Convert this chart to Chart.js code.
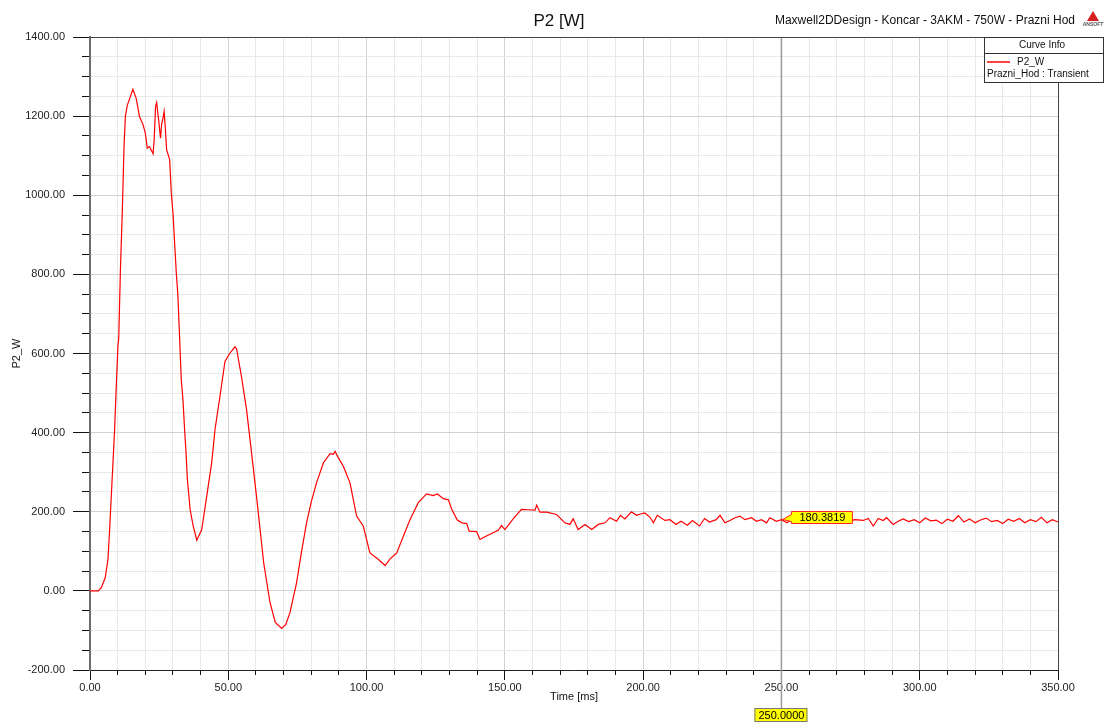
<!DOCTYPE html>
<html>
<head>
<meta charset="utf-8">
<script src="https://cdn.jsdelivr.net/npm/chart.js@4.4.1/dist/chart.umd.min.js"></script>
<style>
  html, body { margin: 0; padding: 0; background: #fff; }
  #wrap { width: 1110px; height: 722px; }
</style>
</head>
<body>
<div id="wrap"><canvas id="p2Chart" width="1110" height="722"></canvas></div>
<script>
/* ── DATA ── */
const timeMs = [
  0, 2, 3, 4.1, 5.5, 6.5, 7.1, 7.7, 8.3, 8.9, 9.5, 10.1, 10.4, 11.0, 11.7, 12.3, 12.8, 13.5, 14.3, 15.5,
  16.7, 17.9, 19.2, 20.0, 20.7, 21.5, 22.3, 22.8, 23.2, 23.7, 24.1, 24.8, 25.5, 25.9, 26.4, 26.8, 27.2, 27.7, 28.8, 29.4,
  30.0, 30.6, 31.2, 31.8, 32.4, 33.0, 33.6, 34.2, 34.8, 35.2, 36.2, 37.3, 38.6, 40.4, 42.2, 44.0, 45.2, 47.0, 48.8, 50.5,
  52.4, 53.0, 54.8, 56.6, 58.4, 60.2, 62.8, 65.1, 67.0, 69.3, 70.8, 72.3, 74.7, 76.5, 78.3, 80.0, 81.9, 84.4, 86.8, 88.0,
  88.6, 89.5, 91.6, 94.0, 96.4, 98.8, 101.2, 104.2, 106.7, 108.5, 110.9, 113.3, 115.7, 118.7, 121.7, 124.1, 125.6, 127.8, 129.6, 130.8,
  132.8, 134.5, 136.2, 137.1, 139.8, 141.0, 142.8, 144.6, 147.6, 148.8, 150.0, 153.0, 156.0, 158.5, 160.9, 161.5, 162.7, 165.1, 168.7, 171.7,
  173.5, 174.7, 176.5, 179.0, 181.4, 183.8, 186.2, 188.0, 190.4, 191.8, 193.4, 195.8, 197.6, 199.4, 200.6, 202.5, 203.7, 205.1, 207.9, 209.7,
  211.9, 213.7, 216.0, 217.8, 220.4, 222.2, 224.0, 226.4, 227.8, 229.6, 231.4, 233.2, 235.0, 236.8, 239.2, 241.0, 242.8, 244.6, 245.8, 248.2,
  250.0, 252, 254, 256, 258, 260, 262, 264, 266, 268, 270, 272, 274, 276.6, 279.6, 281.4, 283.2, 285.0, 286.8, 288.0,
  290.4, 292.2, 294, 296, 298, 300, 302, 304, 306, 308, 310, 312, 314, 316, 318, 320, 322, 324, 326, 328,
  330, 332, 334, 336, 338, 340, 342, 344, 346, 348, 350
];
const powerW = [
  0, 0, 0, 8, 33, 80, 155, 239, 324, 408, 517, 618, 640, 812, 963, 1123, 1200, 1228, 1243, 1268,
  1245, 1199, 1178, 1157, 1119, 1123, 1112, 1105, 1140, 1224, 1234, 1191, 1144, 1180, 1195, 1212, 1174, 1115, 1090, 1006,
  955, 879, 804, 744, 640, 534, 484, 408, 340, 282, 206, 164, 128, 155, 239, 324, 408, 492, 580, 600,
  617, 612, 540, 458, 350, 239, 71, -30, -80, -95, -85, -55, 21, 100, 172, 225, 273, 324, 347, 345,
  353, 340, 315, 273, 189, 164, 96, 80, 64, 81, 96, 138, 180, 223, 245, 241, 245, 233, 230, 206,
  179, 172, 170, 151, 150, 130, 137, 143, 153, 165, 155, 182, 206, 205, 204, 217, 199, 199, 193, 172,
  168, 182, 155, 168, 155, 168, 172, 185, 176, 191, 182, 200, 191, 195, 197, 186, 172, 191, 178, 180,
  168, 176, 166, 178, 164, 183, 174, 180, 191, 172, 178, 185, 189, 180, 185, 176, 180, 172, 185, 176,
  180, 172, 183, 176, 180, 174, 182, 177, 181, 173, 179, 183, 176, 180, 178, 183, 164, 183, 178, 185,
  168, 176, 182, 175, 180, 172, 184, 177, 179, 170, 181, 176, 190, 174, 182, 172, 179, 184, 175, 178,
  170, 181, 176, 183, 172, 180, 175, 186, 172, 180, 174
];
const xTickValues = [0, 50, 100, 150, 200, 250, 300, 350];
const yTickValues = [-200, 0, 200, 400, 600, 800, 1000, 1200, 1400];

const chartTitle = "P2 [W]";
const designTitle = "Maxwell2DDesign - Koncar - 3AKM - 750W - Prazni Hod";
const seriesName = "P2_W";
const setupName = "Prazni_Hod : Transient";
const markerTime = 250;
const markerValue = 180.3819;

/* ── STYLE ── */
const FONT = "'Liberation Sans', Arial, sans-serif";
Chart.defaults.font.family = FONT;
Chart.defaults.font.size = 11;
Chart.defaults.color = "#222";

// Extra drawing: frame, marker, legend box, titles
const decorPlugin = {
  id: "decor",
  beforeDatasetsDraw(chart) {
    const { ctx, chartArea } = chart;
    const mx = chart.scales.x.getPixelForValue(markerTime);
    ctx.save();
    ctx.strokeStyle = "#9a9a9a";
    ctx.lineWidth = 1.5;
    ctx.beginPath();
    ctx.moveTo(mx, chartArea.top);
    ctx.lineTo(mx, 708);
    ctx.stroke();
    ctx.restore();
  },
  afterDraw(chart) {
    const { ctx, chartArea } = chart;
    const xs = chart.scales.x, ys = chart.scales.y;
    ctx.save();

    // top + right frame
    ctx.strokeStyle = "#444";
    ctx.lineWidth = 1;
    ctx.beginPath();
    ctx.moveTo(chartArea.left, chartArea.top + 0.5);
    ctx.lineTo(chartArea.right + 0.5, chartArea.top + 0.5);
    ctx.lineTo(chartArea.right + 0.5, chartArea.bottom);
    ctx.stroke();

    // titles
    ctx.fillStyle = "#111";
    ctx.textBaseline = "middle";
    ctx.font = "17px " + FONT;
    ctx.textAlign = "center";
    ctx.fillText(chartTitle, 559, 21);
    ctx.font = "12px " + FONT;
    ctx.textAlign = "right";
    ctx.fillText(designTitle, 1075, 21);

    // logo
    ctx.fillStyle = "#d42020";
    ctx.beginPath();
    ctx.moveTo(1093, 11);
    ctx.lineTo(1087, 21);
    ctx.lineTo(1099, 21);
    ctx.closePath();
    ctx.fill();
    ctx.fillStyle = "#555";
    ctx.font = "bold 5px " + FONT;
    ctx.textAlign = "center";
    ctx.fillText("ANSOFT", 1093, 25);

    // curve info box
    ctx.fillStyle = "#fff";
    ctx.fillRect(984, 37, 120, 45);
    ctx.strokeStyle = "#333";
    ctx.strokeRect(984.5, 37.5, 119, 45);
    ctx.beginPath();
    ctx.moveTo(984, 53.5);
    ctx.lineTo(1104, 53.5);
    ctx.stroke();
    ctx.fillStyle = "#111";
    ctx.font = "10px " + FONT;
    ctx.textAlign = "center";
    ctx.fillText("Curve Info", 1042, 45);
    ctx.textAlign = "left";
    ctx.fillText(chart.data.datasets[0].label, 1017, 62);
    ctx.fillText(setupName, 987, 74);
    ctx.strokeStyle = "#ff0000";
    ctx.lineWidth = 1.5;
    ctx.beginPath();
    ctx.moveTo(987, 62);
    ctx.lineTo(1010, 62);
    ctx.stroke();

    // value marker label
    const mx = xs.getPixelForValue(markerTime);
    const my = ys.getPixelForValue(markerValue);
    ctx.fillStyle = "#ffff00";
    ctx.strokeStyle = "#ff2020";
    ctx.lineWidth = 1;
    ctx.beginPath();
    ctx.moveTo(mx + 1, my);
    ctx.lineTo(mx + 10, my - 5);
    ctx.lineTo(mx + 10, my - 8);
    ctx.lineTo(mx + 71, my - 8);
    ctx.lineTo(mx + 71, my + 4);
    ctx.lineTo(mx + 10, my + 4);
    ctx.lineTo(mx + 10, my + 2);
    ctx.closePath();
    ctx.fill();
    ctx.stroke();
    ctx.fillStyle = "#000";
    ctx.font = "11px " + FONT;
    ctx.textAlign = "center";
    ctx.fillText(markerValue.toFixed(4), mx + 41, my - 2);

    // x marker label
    ctx.fillStyle = "#ffff00";
    ctx.fillRect(mx - 27, 708, 53, 14);
    ctx.strokeStyle = "#777";
    ctx.strokeRect(mx - 26.5, 708.5, 52, 13);
    ctx.fillStyle = "#000";
    ctx.fillText(markerTime.toFixed(4), mx, 715.5);

    ctx.restore();
  },
};

const points = timeMs.map((t, i) => ({ x: t, y: powerW[i] }));

new Chart(document.getElementById("p2Chart").getContext("2d"), {
  type: "line",
  data: {
    datasets: [
      {
        label: seriesName,
        data: points,
        xAxisID: "x",
        yAxisID: "y",
        borderColor: "#ff0000",
        borderWidth: 1.2,
        pointRadius: 0,
        tension: 0,
        fill: false,
      },
    ],
  },
  options: {
    responsive: false,
    animation: false,
    layout: { padding: { top: 37, right: 52, left: 0, bottom: 0 } },
    plugins: {
      legend: { display: false },
      tooltip: { enabled: false },
    },
    scales: {
      x: {
        type: "linear",
        position: "bottom",
        weight: 1,
        min: 0,
        max: 350,
        afterFit: (s) => { s.height = 52; },
        afterBuildTicks: (s) => { s.ticks = xTickValues.map((v) => ({ value: v })); },
        ticks: {
          autoSkip: false,
          maxRotation: 0,
          padding: 1,
          color: "#222",
          callback: (v) => Number(v).toFixed(2),
        },
        grid: { color: "#d2d2d2", tickColor: "#111", tickLength: 10 },
        border: { color: "#222", width: 1 },
        title: { display: true, text: "Time [ms]", color: "#111", font: { size: 11 }, padding: { top: 0, bottom: 18 } },
      },
      xMinor: {
        type: "linear",
        position: "bottom",
        weight: 0,
        min: 0,
        max: 350,
        afterFit: (s) => { s.height = 0; },
        ticks: { display: false, stepSize: 10 },
        grid: {
          color: (c) => (c.tick && c.tick.value % 50 === 0 ? "rgba(0,0,0,0)" : "#e9e9e9"),
          tickColor: "#111",
          tickLength: 5,
        },
        border: { display: false },
      },
      y: {
        type: "linear",
        position: "left",
        weight: 1,
        min: -200,
        max: 1400,
        afterFit: (s) => { s.width = 90; },
        afterBuildTicks: (s) => { s.ticks = yTickValues.map((v) => ({ value: v })); },
        ticks: {
          autoSkip: false,
          padding: 8,
          color: "#222",
          callback: (v) => Number(v).toFixed(2),
        },
        grid: { color: "#d2d2d2", tickColor: "#111", tickLength: 17 },
        border: { color: "#6e6e6e", width: 2 },
        title: { display: true, text: "P2_W", color: "#111", font: { size: 11 }, padding: { top: 10, bottom: 0 } },
      },
      yMinor: {
        type: "linear",
        position: "left",
        weight: 0,
        min: -200,
        max: 1400,
        afterFit: (s) => { s.width = 0; },
        ticks: { display: false, stepSize: 50 },
        grid: {
          color: (c) => (c.tick && c.tick.value % 200 === 0 ? "rgba(0,0,0,0)" : "#e9e9e9"),
          tickColor: "#111",
          tickLength: 8,
        },
        border: { display: false },
      },
    },
  },
  plugins: [decorPlugin],
});
</script>
</body>
</html>
